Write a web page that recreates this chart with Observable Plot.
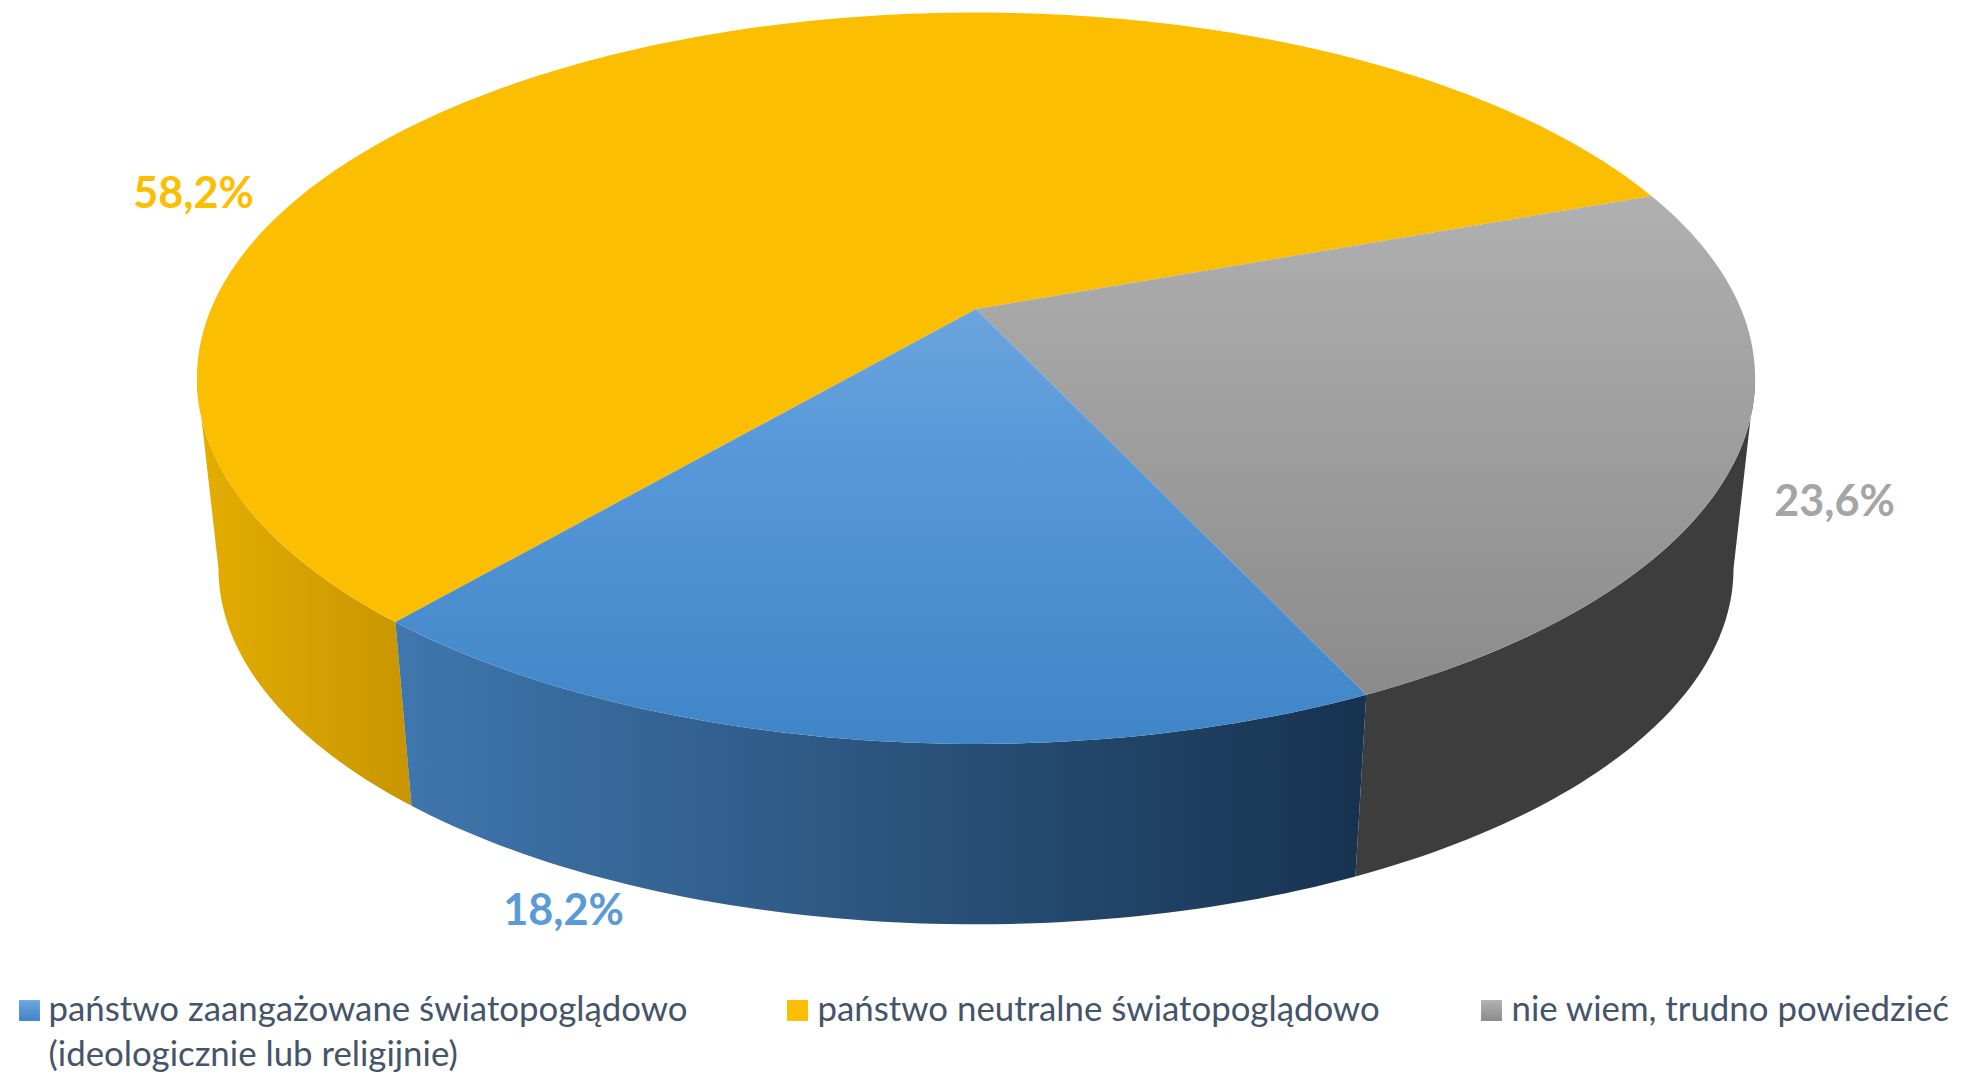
<!DOCTYPE html>
<html><head><meta charset="utf-8">
<style>html,body{margin:0;padding:0;background:#fff;overflow:hidden}svg{display:block}</style>
<script src="https://cdn.jsdelivr.net/npm/d3@7"></script>
<script src="https://cdn.jsdelivr.net/npm/@observablehq/plot@0.6"></script>
</head><body><div id="chart"></div>
<script>
const categories = ["państwo zaangażowane światopoglądowo\n(ideologicznie lub religijnie)", "państwo neutralne światopoglądowo", "nie wiem, trudno powiedzieć"];
const shares = [18.2, 58.2, 23.6];
const sliceColors = ["#5b9bd5", "#fbbe00", "#a5a5a5"];
const startAngle = 155;

const W = 1962, H = 1072;
const cx = 976, cy = 309, sx = 765, sy = 352.6, persp = 0.1893;
const wallScale = 0.9723, vanishY = 19.7;

const project = deg => {
  const t = deg * Math.PI / 180, u = Math.sin(t), v = Math.cos(t), w = 1 + persp * v;
  return [u / w, -v / w];
};
const lower = ([x, y]) => [x * wallScale, vanishY + wallScale * (y - vanishY)];
const tangent = Math.acos(-persp) * 180 / Math.PI;

let acc = startAngle;
const slices = shares.map((s, i) => {
  const a0 = acc, a1 = acc + s * 3.6; acc = a1;
  return {i, a0, a1};
});
const sweep = (a0, a1) => {
  const n = Math.ceil(Math.abs(a1 - a0));
  return d3.range(n + 1).map(k => a0 + (a1 - a0) * k / n);
};
const face = s => sweep(s.a0, s.a1).map(a => { const [x, y] = project(a); return {x, y}; });
const wall = (a0, a1) => sweep(a0, a1).map(a => {
  const p = project(a), q = lower(p);
  return {x1: p[0], y1: p[1], x2: q[0], y2: q[1]};
});
const faceMark = (s, fill) => Plot.area(face(s), {x1: 0, y1: 0, x2: "x", y2: "y", fill, curve: "linear"});
const wallMark = (a0, a1, fill) => Plot.area(wall(a0, a1), {x1: "x1", y1: "y1", x2: "x2", y2: "y2", fill, curve: "linear"});

const px = v => (v - cx) / sx, py = v => (v - cy) / sy;
const gradient = (defs, id, stops, x1, y1, x2, y2) => {
  const g = defs.append("linearGradient").attr("id", id);
  if (x1 !== undefined) {
    g.attr("gradientUnits", "userSpaceOnUse").attr("x1", x1).attr("y1", y1).attr("x2", x2).attr("y2", y2);
  } else {
    g.attr("x1", 0).attr("y1", 0).attr("x2", 0).attr("y2", 1);
  }
  stops.forEach(([o, c]) => g.append("stop").attr("offset", o).attr("stop-color", c));
};
const defsMark = () => {
  const defs = d3.create("svg:defs");
  gradient(defs, "blueFace", [[0, "#6ba4dd"], [0.3, "#5899da"], [1, "#3f85c7"]], 0, 309, 0, 744);
  gradient(defs, "grayFace", [[0, "#b0b0b0"], [1, "#8b8b8b"]], 0, 196, 0, 694);
  gradient(defs, "blueWall", [[0, "#3f77ae"], [1, "#17324f"]], 395, 0, 1366, 0);
  gradient(defs, "yellowWall", [[0, "#e4ad02"], [1, "#c79500"]], 200, 0, 412, 0);
  gradient(defs, "blueKey", [[0, "#6fa6de"], [1, "#3f85c7"]]);
  gradient(defs, "grayKey", [[0, "#b2b2b2"], [1, "#8b8b8b"]]);
  return defs.node();
};

const valueLabels = shares.map(s => `${s.toFixed(1).replace(".", ",")}%`);
const labelPlaces = [[563, 911], [193, 194], [1834, 502]];
const keyPlaces = [[29, 1010], [797, 1010], [1491, 1010]];
const textPlaces = [[48, 988], [817, 988], [1511, 988]];
const keyFills = ["url(#blueKey)", "#fbbe00", "url(#grayKey)"];
const font = "Lato, Carlito, sans-serif";

const label = i => Plot.text([valueLabels[i]], {
  frameAnchor: "top-left", dx: labelPlaces[i][0], dy: labelPlaces[i][1], text: d => d,
  textAnchor: "middle", lineAnchor: "middle", fontFamily: font, fontWeight: 700, fontSize: 43.2, fill: sliceColors[i]
});
const keySwatch = i => Plot.dot([categories[i]], {
  frameAnchor: "top-left", dx: keyPlaces[i][0], dy: keyPlaces[i][1], symbol: "square", r: 11.8, fill: keyFills[i], stroke: "none"
});
const keyText = i => Plot.text([categories[i]], {
  frameAnchor: "top-left", dx: textPlaces[i][0], dy: textPlaces[i][1], text: d => d,
  textAnchor: "start", lineAnchor: "top", lineHeight: 1.3, fontFamily: font, fontSize: 34.8, fill: "#44546a"
});

const [blue, yellow, gray] = slices;
const chart = Plot.plot({
  width: W, height: H, margin: 0,
  x: {domain: [px(0), px(W)], range: [0, W], axis: null},
  y: {domain: [py(0), py(H)], range: [0, H], axis: null},
  marks: [
    defsMark,
    wallMark(tangent, blue.a0, "#3d3d3d"),
    wallMark(yellow.a0, 360 - tangent, "url(#yellowWall)"),
    wallMark(blue.a0, blue.a1, "url(#blueWall)"),
    faceMark(yellow, "#fbbe00"),
    faceMark(gray, "url(#grayFace)"),
    faceMark(blue, "url(#blueFace)"),
    ...[0, 1, 2].map(label),
    ...[0, 1, 2].map(keySwatch),
    ...[0, 1, 2].map(keyText)
  ]
});
document.getElementById("chart").append(chart);
</script></body></html>
